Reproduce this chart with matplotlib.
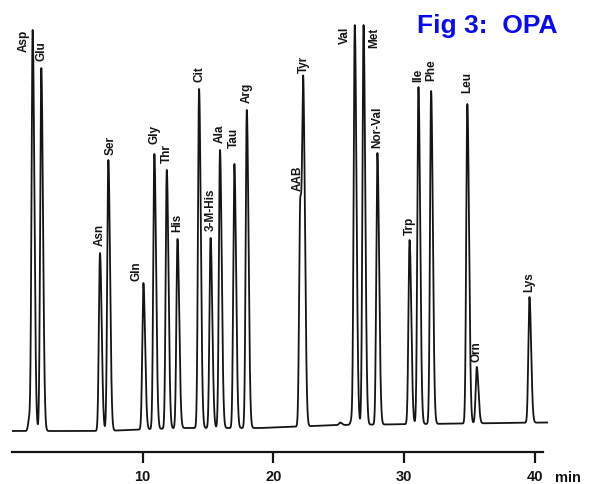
import numpy as np
import matplotlib
matplotlib.use("Agg")
import matplotlib.pyplot as plt

# ---- data (retention time in min, apex signal in arbitrary units) ----
names = ["Asp", "Glu", "Asn", "Ser", "Gln", "Gly", "Thr", "His", "Cit", "3-M-His",
         "Ala", "Tau", "Arg", "AAB", "Tyr", "Val", "Met", "Nor-Val", "Trp", "Ile",
         "Phe", "Leu", "Orn", "Lys"]
times = [1.58, 2.24, 6.73, 7.37, 10.05, 10.89, 11.84, 12.66, 14.31, 15.19,
         15.91, 17.01, 17.96, 22.05, 22.29, 26.22, 26.89, 27.95, 30.41, 31.09,
         32.06, 34.83, 35.55, 39.58]
apex = [401, 363, 178, 271, 148, 277, 261, 192, 342, 193,
        281, 267, 321, 233, 351, 406, 406, 278, 191, 344,
        340, 327, 64, 134]

# small unlabelled peaks
minor_times = [1.32, 25.10, 25.97]
minor_apex = [16, 8.5, 16]

# baseline drift points (time, signal)
base_t = [0.0, 7.0, 13.0, 19.0, 25.0, 41.0]
base_y = [0.0, 0.0, 3.0, 3.0, 6.0, 8.5]

tick_vals = [10, 20, 30, 40]
title = "Fig 3:  OPA"

# ---- label placement styles ----
label_style = {
    "Asp": ("left", -3, 0),
    "Val": ("left", -4, -2),
    "Met": ("right", 5, -3),
    "Gln": ("leftlow", -1, 2),
}
label_gap = {"Tau": 16, "Gly": 10, "Phe": 10, "Leu": 11, "Ser": 5, "Nor-Val": 5,
             "Trp": 5, "Ile": 5, "Orn": 5, "Lys": 5}
label_dx = {"AAB": -3, "Ser": 2}

INK = "#141414"

# ---- build trace ----
t = np.linspace(0.0, 41.0, 12000)
baseline = np.interp(t, base_t, base_y)


def peak(tt, t0, sl=0.085, sr=0.13):
    tt = np.asarray(tt, dtype=float)
    s = np.where(tt < t0, sl, sr)
    return np.exp(-0.5 * ((tt - t0) / s) ** 2)


all_t = np.array(times + minor_times)
all_a = np.array(apex + minor_apex, dtype=float)
# amplitudes chosen so that the summed trace passes through each read apex
M = np.array([[peak(ti, tj) for tj in all_t] for ti in all_t])
amps = np.linalg.solve(M, all_a - np.interp(all_t, base_t, base_y))
amps = np.clip(amps, 0, None)

signal = baseline.copy()
for t0, h in zip(all_t, amps):
    signal += h * peak(t, t0)

fig = plt.figure(figsize=(5.89, 4.84), dpi=100)
ax = fig.add_axes([12 / 589, 0.0, 536 / 589, 1.0])
ax.set_xlim(0, 41.0)
ax.set_ylim(-53, 431)
ax.patch.set_alpha(0)

ax.plot(t, signal, color=INK, lw=1.3, solid_joinstyle="round")

for sp in ["top", "right", "left"]:
    ax.spines[sp].set_visible(False)
ax.spines["bottom"].set_position(("data", -21))
ax.spines["bottom"].set_bounds(0, 40.6)
ax.spines["bottom"].set_linewidth(1.6)
ax.spines["bottom"].set_color(INK)
ax.set_yticks([])
ax.set_xticks(tick_vals)
ax.set_xticklabels([str(v) for v in tick_vals])
ax.tick_params(axis="x", direction="out", length=8, width=1.6, color=INK,
               pad=5, labelsize=10.5, labelcolor=INK)
for lbl in ax.get_xticklabels():
    lbl.set_fontfamily("Liberation Sans")
    lbl.set_fontweight("bold")

fig.text(555 / 589, 1 - 482 / 484, "min", ha="left", va="baseline",
         fontsize=10.5, family="Liberation Sans", fontweight="bold", color=INK)

for n, t0, a in zip(names, times, apex):
    style = label_style.get(n)
    kw = dict(textcoords="offset pixels", rotation=90, fontsize=8.5,
              family="Liberation Sans", fontweight="bold", color=INK)
    if style is None:
        gap = label_gap.get(n, 7)
        ax.annotate(n, xy=(t0, a), xytext=(label_dx.get(n, 0), gap),
                    ha="center", va="bottom", **kw)
    else:
        kind, dx, dy = style
        if kind == "left":
            ha, va = "right", "top"
        elif kind == "right":
            ha, va = "left", "top"
        else:
            ha, va = "right", "bottom"
        ax.annotate(n, xy=(t0, a), xytext=(dx, dy), ha=ha, va=va, **kw)

fig.text(417 / 589, 1 - 33 / 484, title, ha="left", va="baseline", fontsize=19,
         fontweight="bold", family="Liberation Sans", color="#0a0af0")

fig.savefig("out.png", dpi=100)
